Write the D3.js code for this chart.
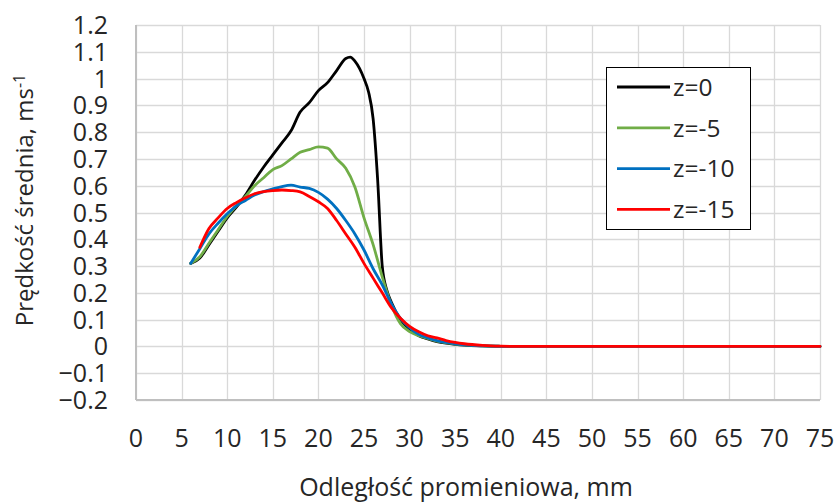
<!DOCTYPE html>
<html>
<head>
  <meta charset="UTF-8">
  <style>
    body { margin: 0; padding: 0; background: #ffffff; }
    svg text { font-family: 'Open Sans', sans-serif; fill: #262626; }
  </style>
</head>
<body>
<svg id="chart"></svg>
<script src="https://d3js.org/d3.v7.min.js"></script>
<script>
let width = 835, height = 504;
let margin = {top: 25, right: 15, bottom: 104, left: 136};

// radial distance (mm) for each series
let xBlack = [6,7,8,9,10,11,12,13,14,15,16,17,18,19,20,21,22,23,23.5,24,25,25.5,26,26.5,27,27.5,28,29,30,31,32,33,34,35,36,38,40,42,45,50,55,60,65,70,75];
let yBlack = [0.31,0.33,0.38,0.43,0.48,0.52,0.565,0.62,0.67,0.715,0.76,0.805,0.875,0.91,0.955,0.985,1.03,1.075,1.08,1.065,1.0,0.95,0.85,0.62,0.3,0.21,0.165,0.1,0.065,0.04,0.028,0.018,0.012,0.008,0.005,0.002,0.0005,0,0,0,0,0,0,0,0];

let xGreen = [6,7,8,9,10,11,12,13,14,15,16,17,18,19,20,21,22,23,24,25,26,27,28,29,30,31,32,33,34,35,36,38,40,42,45,50,55,60,65,70,75];
let yGreen = [0.31,0.335,0.385,0.435,0.485,0.525,0.56,0.6,0.63,0.66,0.675,0.7,0.725,0.735,0.745,0.74,0.7,0.665,0.595,0.48,0.38,0.26,0.155,0.085,0.055,0.04,0.03,0.02,0.014,0.009,0.006,0.002,0.0005,0,0,0,0,0,0,0,0];

let xBlue = [6,7,8,9,10,11,12,13,14,15,16,17,18,19,20,21,22,23,24,25,26,27,28,29,30,31,32,33,34,35,36,38,40,42,45,50,55,60,65,70,75];
let yBlue = [0.31,0.365,0.42,0.46,0.495,0.525,0.545,0.565,0.578,0.588,0.597,0.602,0.595,0.59,0.575,0.55,0.515,0.47,0.42,0.36,0.29,0.23,0.16,0.105,0.07,0.045,0.032,0.022,0.015,0.01,0.006,0.002,0.0005,0,0,0,0,0,0,0,0];

let xRed = [7,8,9,10,11,12,13,14,15,16,17,18,19,20,21,22,23,24,25,26,27,28,29,30,31,32,33,34,35,36,38,40,42,45,50,55,60,65,70,75];
let yRed = [0.37,0.44,0.48,0.515,0.537,0.555,0.57,0.578,0.582,0.584,0.582,0.577,0.56,0.54,0.515,0.47,0.42,0.37,0.31,0.255,0.2,0.145,0.105,0.075,0.055,0.04,0.032,0.022,0.015,0.01,0.004,0.001,0,0,0,0,0,0,0,0];

let seriesNames = ["z=0", "z=-5", "z=-10", "z=-15"];
let seriesColors = ["#000000", "#70ad47", "#0070c0", "#ff0000"];
let seriesX = [xBlack, xGreen, xBlue, xRed];
let seriesY = [yBlack, yGreen, yBlue, yRed];

let xTicks = d3.range(0, 76, 5);
let yTicks = [-0.2,-0.1,0,0.1,0.2,0.3,0.4,0.5,0.6,0.7,0.8,0.9,1,1.1,1.2];

let svg = d3.select("#chart")
    .attr("width", width)
    .attr("height", height);

let x = d3.scaleLinear().domain([0, 75]).range([margin.left, width - margin.right]);
let y = d3.scaleLinear().domain([-0.2, 1.2]).range([height - margin.bottom, margin.top]);

// gridlines
svg.append("g")
    .selectAll("line")
    .data(yTicks)
    .enter()
    .append("line")
    .attr("x1", x(0)).attr("x2", x(75))
    .attr("y1", d => Math.round(y(d)) + 0.5).attr("y2", d => Math.round(y(d)) + 0.5)
    .attr("stroke", "#d9d9d9").attr("stroke-width", 1.3);

svg.append("g")
    .selectAll("line")
    .data(xTicks)
    .enter()
    .append("line")
    .attr("x1", d => Math.round(x(d)) + 0.5).attr("x2", d => Math.round(x(d)) + 0.5)
    .attr("y1", y(-0.2)).attr("y2", y(1.2))
    .attr("stroke", "#d9d9d9").attr("stroke-width", 1.3);

// axis lines
svg.append("line")
    .attr("x1", x(0)).attr("x2", x(0))
    .attr("y1", y(-0.2)).attr("y2", y(1.2))
    .attr("stroke", "#bfbfbf").attr("stroke-width", 2);
svg.append("line")
    .attr("x1", x(0)).attr("x2", x(75))
    .attr("y1", y(-0.2)).attr("y2", y(-0.2))
    .attr("stroke", "#bfbfbf").attr("stroke-width", 2);

// tick labels
svg.append("g")
    .selectAll("text")
    .data(yTicks)
    .enter()
    .append("text")
    .attr("x", 108)
    .attr("y", d => y(d))
    .attr("dy", "0.36em")
    .attr("text-anchor", "end")
    .style("font-size", "25px")
    .text(d => d3.format("")(+d.toFixed(1)));

svg.append("g")
    .selectAll("text")
    .data(xTicks)
    .enter()
    .append("text")
    .attr("x", d => x(d))
    .attr("y", 447)
    .attr("text-anchor", "middle")
    .style("font-size", "25px")
    .text(d => d);

// axis titles
svg.append("text")
    .attr("x", (x(0) + x(75)) / 2 - 12)
    .attr("y", 496)
    .attr("text-anchor", "middle")
    .style("font-size", "25px")
    .text("Odległość promieniowa, mm");

let yTitle = svg.append("text")
    .attr("transform", "translate(33,200) rotate(-90)")
    .attr("text-anchor", "middle")
    .style("font-size", "24px");
yTitle.append("tspan").text("Prędkość średnia, ms");
yTitle.append("tspan").attr("dy", "-0.5em").style("font-size", "16px").text("-1");

// series lines
let line = d3.line()
    .x(d => x(d[0]))
    .y(d => y(d[1]))
    .curve(d3.curveMonotoneX);

seriesX.forEach((xs, i) => {
    let pts = xs.map((v, j) => [v, seriesY[i][j]]);
    svg.append("path")
        .datum(pts)
        .attr("d", line)
        .attr("fill", "none")
        .attr("stroke", seriesColors[i])
        .attr("stroke-width", 2.8)
        .attr("stroke-linejoin", "round")
        .attr("stroke-linecap", "round");
});

// legend
let legend = svg.append("g");
legend.append("rect")
    .attr("x", 606.5).attr("y", 67.5)
    .attr("width", 144).attr("height", 162)
    .attr("fill", "#ffffff")
    .attr("stroke", "#000000").attr("stroke-width", 1);

let rows = legend.selectAll("g.row")
    .data(seriesNames)
    .enter()
    .append("g")
    .attr("class", "row")
    .attr("transform", (d, i) => "translate(0," + (87 + i * 40.8) + ")");
rows.append("line")
    .attr("x1", 617).attr("x2", 670)
    .attr("y1", 0).attr("y2", 0)
    .attr("stroke", (d, i) => seriesColors[i])
    .attr("stroke-width", 2.8);
rows.append("text")
    .attr("x", 673)
    .attr("dy", "0.36em")
    .style("font-size", "24.5px")
    .text(d => d);
</script>
</body>
</html>
